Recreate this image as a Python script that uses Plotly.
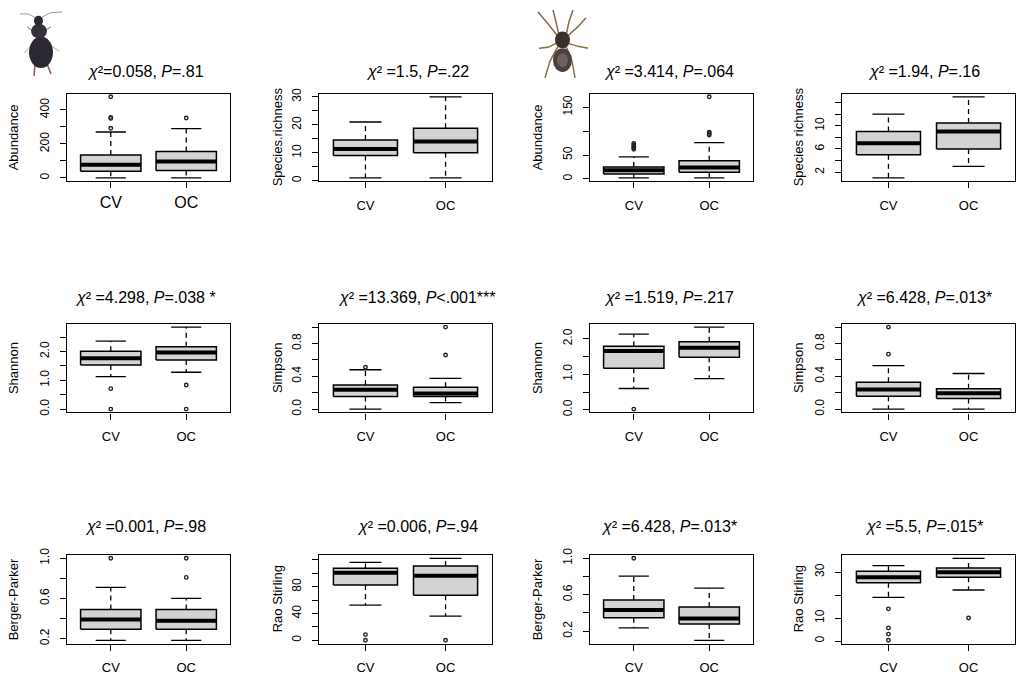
import plotly.graph_objects as go

GROUPS = ["CV", "OC"]

# five-number summaries: [lower whisker, Q1, median, Q3, upper whisker]
b_abund_cv = [0, 39, 77, 135, 270]
b_abund_oc = [0, 44, 97, 155, 290]
b_abund_out_cv = [292, 350, 356, 477]
b_abund_out_oc = [352]

b_rich_cv = [1, 9, 11.3, 14.6, 21]
b_rich_oc = [1, 10, 14, 18.8, 30]
b_rich_out_cv = []
b_rich_out_oc = []

s_abund_cv = [2, 10, 18, 25, 46]
s_abund_oc = [2, 14, 24, 38, 76]
s_abund_out_cv = [62, 65, 68, 71, 74]
s_abund_out_oc = [92, 95, 98, 172]

s_rich_cv = [1, 5, 7, 9, 12]
s_rich_oc = [3, 6, 9, 10.5, 15]
s_rich_out_cv = []
s_rich_out_oc = []

b_shan_cv = [1.13, 1.53, 1.77, 2.01, 2.36]
b_shan_oc = [1.28, 1.71, 1.97, 2.17, 2.85]
b_shan_out_cv = [0.0, 0.71]
b_shan_out_oc = [0.0, 0.84]

b_simp_cv = [0.0, 0.155, 0.237, 0.294, 0.48]
b_simp_oc = [0.08, 0.155, 0.19, 0.265, 0.375]
b_simp_out_cv = [0.51]
b_simp_out_oc = [0.66, 1.0]

s_shan_cv = [0.6, 1.17, 1.66, 1.79, 2.13]
s_shan_oc = [0.88, 1.48, 1.75, 1.92, 2.33]
s_shan_out_cv = [0.02]
s_shan_out_oc = []

s_simp_cv = [0.0, 0.157, 0.24, 0.326, 0.53]
s_simp_oc = [0.0, 0.128, 0.194, 0.248, 0.434]
s_simp_out_cv = [0.67, 1.0]
s_simp_out_oc = []

b_bp_cv = [0.183, 0.293, 0.39, 0.49, 0.71]
b_bp_oc = [0.183, 0.293, 0.377, 0.49, 0.6]
b_bp_out_cv = [1.0]
b_bp_out_oc = [0.81, 1.0]

b_rao_cv = [52.5, 82.5, 101, 107.5, 116.5]
b_rao_oc = [36, 67.5, 96.5, 111, 122.5]
b_rao_out_cv = [0, 8.5]
b_rao_out_oc = [0]

s_bp_cv = [0.237, 0.348, 0.432, 0.543, 0.805]
s_bp_oc = [0.1, 0.28, 0.34, 0.466, 0.672]
s_bp_out_cv = [1.0]
s_bp_out_oc = []

s_rao_cv = [19, 25.4, 27.8, 30.4, 32.8]
s_rao_oc = [22.2, 27.8, 29.9, 31.8, 36]
s_rao_out_cv = [0.3, 3.0, 5.7, 14]
s_rao_out_oc = [10]

TITLES = [
    "<i>χ</i>²=0.058, <i>P</i>=.81",
    "<i>χ</i>² =1.5, <i>P</i>=.22",
    "<i>χ</i>² =3.414, <i>P</i>=.064",
    "<i>χ</i>² =1.94, <i>P</i>=.16",
    "<i>χ</i>² =4.298, <i>P</i>=.038 *",
    "<i>χ</i>² =13.369, <i>P</i>&lt;.001***",
    "<i>χ</i>² =1.519, <i>P</i>=.217",
    "<i>χ</i>² =6.428, <i>P</i>=.013*",
    "<i>χ</i>² =0.001, <i>P</i>=.98",
    "<i>χ</i>² =0.006, <i>P</i>=.94",
    "<i>χ</i>² =6.428, <i>P</i>=.013*",
    "<i>χ</i>² =5.5, <i>P</i>=.015*",
]
YLABELS = ["Abundance", "Species.richness", "Abundance", "Species richness",
           "Shannon", "Simpson", "Shannon", "Simpson",
           "Berger-Parker", "Rao Stirling", "Berger-Parker", "Rao Stirling"]

# labelled ticks
TICKVALS = [
    [0, 200, 400], [0, 10, 20, 30], [0, 50, 150], [2, 6, 10],
    [0, 1, 2], [0, 0.4, 0.8], [0, 1, 2], [0, 0.4, 0.8],
    [0.2, 0.6, 1.0], [0, 40, 80], [0.2, 0.6, 1.0], [0, 10, 30],
]
TICKTEXT = [
    ["0", "200", "400"], ["0", "10", "20", "30"], ["0", "50", "150"], ["2", "6", "10"],
    ["0.0", "1.0", "2.0"], ["0.0", "0.4", "0.8"], ["0.0", "1.0", "2.0"], ["0.0", "0.4", "0.8"],
    ["0.2", "0.6", "1.0"], ["0", "40", "80"], ["0.2", "0.6", "1.0"], ["0", "10", "30"],
]
# unlabelled ticks
MINORVALS = [
    [100, 300], [5, 15, 25], [100], [4, 8, 12, 14],
    [0.5, 1.5, 2.5], [0.2, 0.6, 1.0], [0.5, 1.5], [0.2, 0.6, 1.0],
    [0.4, 0.8], [20, 60, 100, 120], [0.4, 0.8], [20],
]

PANEL_DATA = [
    (b_abund_cv, b_abund_oc, b_abund_out_cv, b_abund_out_oc),
    (b_rich_cv, b_rich_oc, b_rich_out_cv, b_rich_out_oc),
    (s_abund_cv, s_abund_oc, s_abund_out_cv, s_abund_out_oc),
    (s_rich_cv, s_rich_oc, s_rich_out_cv, s_rich_out_oc),
    (b_shan_cv, b_shan_oc, b_shan_out_cv, b_shan_out_oc),
    (b_simp_cv, b_simp_oc, b_simp_out_cv, b_simp_out_oc),
    (s_shan_cv, s_shan_oc, s_shan_out_cv, s_shan_out_oc),
    (s_simp_cv, s_simp_oc, s_simp_out_cv, s_simp_out_oc),
    (b_bp_cv, b_bp_oc, b_bp_out_cv, b_bp_out_oc),
    (b_rao_cv, b_rao_oc, b_rao_out_cv, b_rao_out_oc),
    (s_bp_cv, s_bp_oc, s_bp_out_cv, s_bp_out_oc),
    (s_rao_cv, s_rao_oc, s_rao_out_cv, s_rao_out_oc),
]

W, H = 1020, 684
COLS = [(67, 230), (319, 492), (590, 753), (842, 1015)]
ROWS = [(88, 177), (322, 412), (557, 647)]
TITLE_X = [145, 417, 669, 924]
TITLE_Y = [66, 295, 528]
YLAB_X = [13, 277, 537, 798]

FONT = "Liberation Sans, Arial, sans-serif"
BOX_HW = 0.4
CAP_HW = 0.2


def px(x):
    return x / W


def py(y):
    return 1 - y / H


fig = go.Figure()
layout = dict(width=W, height=H, margin=dict(l=0, r=0, t=0, b=0, pad=0),
              paper_bgcolor="white", plot_bgcolor="white", showlegend=False,
              font=dict(family=FONT, color="black"))
annotations = []

for i, (cv, oc, out_cv, out_oc) in enumerate(PANEL_DATA):
    r, c = divmod(i, 4)
    n = i + 1
    xa, ya = f"x{n}", f"y{n}"
    for pos, stats, outs in ((1, cv, out_cv), (2, oc, out_oc)):
        lo, q1, med, q3, up = stats
        fig.add_trace(go.Scatter(x=[pos, pos, None, pos, pos], y=[q3, up, None, q1, lo],
                                 mode="lines", line=dict(color="black", width=1.3, dash="5px,4px"),
                                 xaxis=xa, yaxis=ya, hoverinfo="skip"))
        fig.add_trace(go.Scatter(x=[pos - CAP_HW, pos + CAP_HW, None, pos - CAP_HW, pos + CAP_HW],
                                 y=[up, up, None, lo, lo], mode="lines",
                                 line=dict(color="black", width=1.3),
                                 xaxis=xa, yaxis=ya, hoverinfo="skip"))
        fig.add_trace(go.Scatter(x=[pos - BOX_HW, pos + BOX_HW, pos + BOX_HW, pos - BOX_HW, pos - BOX_HW],
                                 y=[q1, q1, q3, q3, q1], mode="lines", fill="toself",
                                 fillcolor="#D3D3D3", line=dict(color="black", width=1.5),
                                 xaxis=xa, yaxis=ya, hoverinfo="skip"))
        fig.add_trace(go.Scatter(x=[pos - BOX_HW, pos + BOX_HW], y=[med, med], mode="lines",
                                 line=dict(color="black", width=4),
                                 xaxis=xa, yaxis=ya, hoverinfo="skip"))
        if outs:
            fig.add_trace(go.Scatter(x=[pos] * len(outs), y=outs, mode="markers",
                                     marker=dict(symbol="circle-open", size=3.5, color="#222222",
                                                 line=dict(color="#222222", width=1.4)),
                                     xaxis=xa, yaxis=ya, hoverinfo="skip"))

    allv = cv + oc + out_cv + out_oc
    lo_v, hi_v = min(allv), max(allv)
    pad = 0.04 * (hi_v - lo_v)
    x0, x1 = COLS[c]
    y0, y1 = ROWS[r]
    key = "" if n == 1 else str(n)
    layout[f"xaxis{key}"] = dict(domain=[px(x0), px(x1)], range=[0.42, 2.58], anchor=ya,
                                tickvals=[1, 2], ticktext=GROUPS, ticks="outside", ticklen=6,
                                tickwidth=1, tickcolor="black", showline=True, mirror=True,
                                linecolor="black", linewidth=1.3, showgrid=False, zeroline=False,
                                tickfont=dict(size=16 if n == 1 else 13),
                                ticklabelstandoff=0 if n == 1 else 6, fixedrange=True)
    layout[f"yaxis{key}"] = dict(domain=[py(y1), py(y0)], range=[lo_v - pad, hi_v + pad], anchor=xa,
                                tickvals=TICKVALS[i], ticktext=TICKTEXT[i], tickangle=-90,
                                ticks="outside", ticklen=6, tickwidth=1, tickcolor="black",
                                minor=dict(tickvals=MINORVALS[i], ticks="outside", ticklen=6,
                                           tickwidth=1, tickcolor="black", showgrid=False),
                                showline=True, mirror=True, linecolor="black", linewidth=1.3,
                                showgrid=False, zeroline=False, tickfont=dict(size=12),
                                ticklabelstandoff=6, fixedrange=True)
    annotations.append(dict(text=TITLES[i], x=px(TITLE_X[c]), y=py(TITLE_Y[r]), xref="paper", yref="paper",
                            xanchor="center", yanchor="middle", showarrow=False, font=dict(size=16)))
    annotations.append(dict(text=YLABELS[i], x=px(YLAB_X[c]), y=py((y0 + y1) / 2), xref="paper",
                            yref="paper", xanchor="center", yanchor="middle", textangle=-90,
                            showarrow=False, font=dict(size=13)))

# decorative insect silhouettes (beetle and spider icons)
shapes = []


def ell(xa0, ya0, xa1, ya1, color):
    shapes.append(dict(type="circle", xref="paper", yref="paper", x0=px(xa0), x1=px(xa1),
                       y0=py(ya1), y1=py(ya0), fillcolor=color, line=dict(width=0)))


def seg(pts, color, width=1):
    path = "M " + " L ".join(f"{px(a)},{py(b)}" for a, b in pts)
    shapes.append(dict(type="path", xref="paper", yref="paper", path=path,
                       line=dict(color=color, width=width)))


# beetle
seg([(36, 11), (28, 7), (20, 7)], "#9a9a9a", 1)
seg([(41, 11), (50, 6), (62, 5)], "#9a9a9a", 1)
seg([(32, 24), (27, 20)], "#777777", 1)
seg([(45, 24), (51, 20)], "#777777", 1)
seg([(30, 40), (24, 47)], "#aaaaaa", 1)
seg([(52, 40), (59, 45)], "#aaaaaa", 1)
seg([(35, 58), (34, 70)], "#8a5a50", 1.5)
seg([(47, 58), (51, 68)], "#8a5a50", 1.5)
ell(29, 30, 53, 62, "#2c2832")
ell(31, 17, 47, 32, "#35303a")
ell(34, 9, 43, 19, "#2a2a30")
# spider
for pts in ([(558, 30), (548, 17), (538, 5)], [(559, 29), (556, 15), (553, 3)],
            [(566, 29), (569, 15), (573, 3)], [(567, 30), (578, 20), (586, 11)],
            [(556, 37), (548, 41), (539, 42)], [(558, 40), (550, 55), (545, 72)],
            [(568, 37), (578, 40), (588, 42)], [(566, 40), (572, 55), (575, 72)]):
    seg(pts, "#8b6b45", 1.5)
ell(555, 25, 570, 42, "#3a302c")
ell(553, 42, 572, 66, "#4a403c")
ell(557, 47, 568, 61, "#6b6260")

layout["annotations"] = annotations
layout["shapes"] = shapes
fig.update_layout(**layout)
fig.write_html("out.html", config={"displayModeBar": False},
               post_script="document.body.style.margin='0';document.body.style.overflow='hidden';")
